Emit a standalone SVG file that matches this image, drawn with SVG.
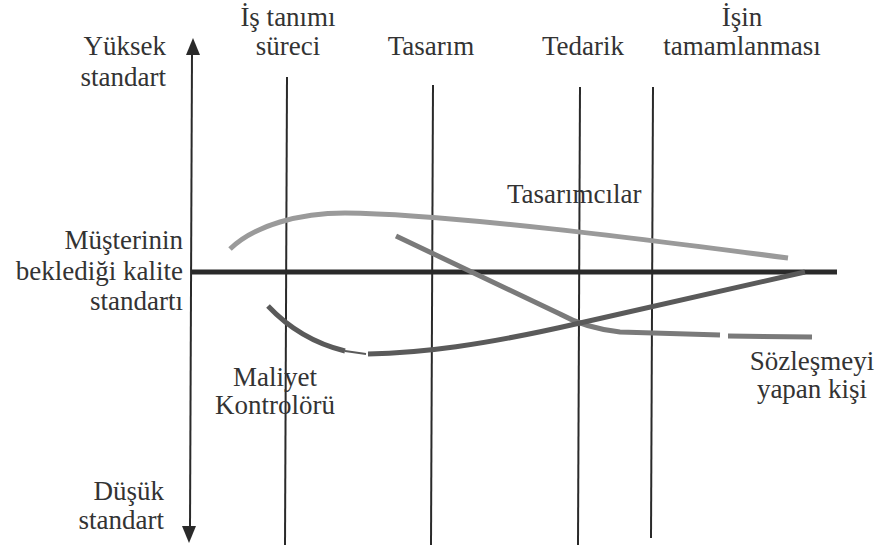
<svg xmlns="http://www.w3.org/2000/svg" width="877" height="550" viewBox="0 0 877 550" font-family="'Liberation Serif', 'DejaVu Serif', 'Times New Roman', serif">
<style>
text{font-family:'Liberation Serif','DejaVu Serif','Times New Roman',serif;font-size:27px;fill:#333}
.m{text-anchor:middle}.e{text-anchor:end}
.v{stroke:#2a2a2a;stroke-width:2;fill:none}
.c{fill:none;stroke-width:5;stroke-linecap:butt}
</style>
<rect width="877" height="550" fill="#fff"/>
<g id="axis">
<line x1="192" y1="52" x2="190" y2="528" stroke="#2a2a2a" stroke-width="2"/>
<polygon points="193,38 186,55 200,55" fill="#2a2a2a"/>
<polygon points="189,543 182,526 196,526" fill="#2a2a2a"/>
<text class="e" x="166" y="55">Yüksek</text>
<text class="e" x="166" y="86">standart</text>
<text class="e" x="164" y="500">Düşük</text>
<text class="e" x="164" y="529">standart</text>
</g>
<g id="phases">
<line class="v" x1="287" y1="77" x2="285" y2="545"/>
<line class="v" x1="433" y1="85" x2="431" y2="545"/>
<line class="v" x1="580" y1="87" x2="578" y2="545"/>
<line class="v" x1="653" y1="87" x2="651" y2="538"/>
<text class="m" x="288" y="26">İş tanımı</text>
<text class="m" x="288" y="55">süreci</text>
<text class="m" x="431" y="55">Tasarım</text>
<text class="m" x="583" y="55">Tedarik</text>
<text class="m" x="742" y="26">İşin</text>
<text class="m" x="742" y="55">tamamlanması</text>
</g>
<g id="standard">
<line x1="192" y1="272" x2="837" y2="272" stroke="#2a2a2a" stroke-width="5"/>
<text class="e" x="183" y="249">Müşterinin</text>
<text class="e" x="183" y="280">beklediği kalite</text>
<text class="e" x="183" y="310">standartı</text>
</g>
<g id="designers">
<path class="c" stroke="#9a9a9a" d="M230,249 C255,225 300,213 345,213 C450,214 650,240 788,258"/>
<text x="507" y="203">Tasarımcılar</text>
</g>
<g id="contractor">
<path class="c" stroke="#7a7a7a" d="M396,236 L560,314 Q585,328 620,332 L720,335 M728,336 L812,337"/>
<text class="m" x="812" y="370">Sözleşmeyi</text>
<text class="m" x="812" y="398">yapan kişi</text>
</g>
<g id="cost">
<path class="c" stroke="#5a5a5a" d="M268,306 Q300,340 345,351"/>
<path fill="none" stroke="#5a5a5a" stroke-width="2" d="M345,351 L366,354"/>
<path class="c" stroke="#5a5a5a" d="M368,354 C420,353 480,346 580,323 L805,272"/>
<text class="m" x="275" y="386">Maliyet</text>
<text class="m" x="275" y="414">Kontrolörü</text>
</g>
</svg>
